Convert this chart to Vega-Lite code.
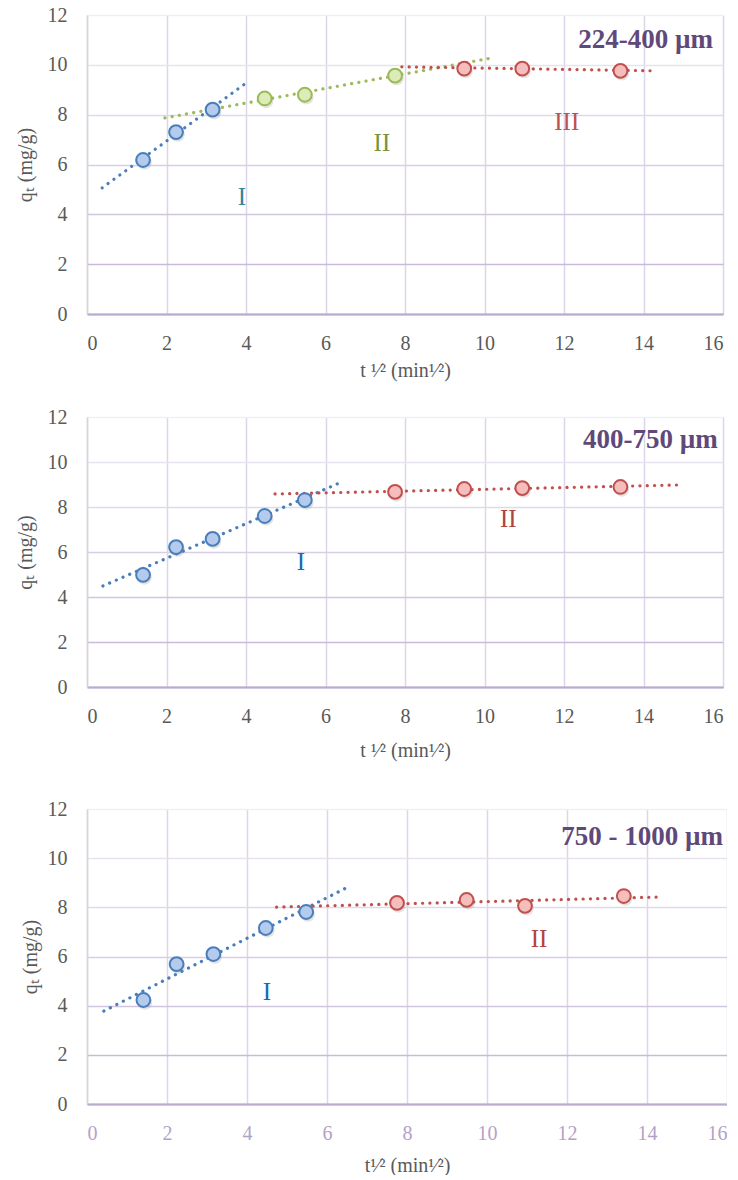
{
  "$schema": "https://vega.github.io/schema/vega-lite/v6.json",
  "padding": {"left": 15, "top": 5, "right": 0, "bottom": 0},
  "columns": 1,
  "align": "none",
  "spacing": 27,
  "resolve": {"scale": {"stroke": "independent", "fill": "independent", "color": "independent"}},
  "config": {
    "view": {"stroke": null},
    "font": "Liberation Serif",
    "axis": {
      "labelFont": "Liberation Serif",
      "titleFont": "Liberation Serif",
      "labelFontSize": 20,
      "titleFontSize": 20,
      "labelColor": "#595959",
      "titleColor": "#595959",
      "titleFontWeight": "normal",
      "ticks": false,
      "tickSize": 0,
      "gridWidth": 1.5
    }
  },
  "datasets": {
    "p1": [
      {"x": 1.41, "q": 6.18, "s": "I"}, {"x": 2.24, "q": 7.3, "s": "I"}, {"x": 3.16, "q": 8.2, "s": "I"},
      {"x": 4.47, "q": 8.65, "s": "II"}, {"x": 5.48, "q": 8.8, "s": "II"}, {"x": 7.75, "q": 9.57, "s": "II"},
      {"x": 9.49, "q": 9.85, "s": "III"}, {"x": 10.95, "q": 9.85, "s": "III"}, {"x": 13.42, "q": 9.76, "s": "III"}
    ],
    "l1": [
      {"x": 0.38, "q": 5.06, "s": "I"}, {"x": 4.08, "q": 9.36, "s": "I"},
      {"x": 1.96, "q": 7.87, "s": "II"}, {"x": 10.2, "q": 10.28, "s": "II"},
      {"x": 7.92, "q": 9.92, "s": "III"}, {"x": 14.3, "q": 9.76, "s": "III"}
    ],
    "t1": [
      {"x": 3.9, "q": 4.7, "label": "I", "s": "I"},
      {"x": 7.42, "q": 6.87, "label": "II", "s": "II"},
      {"x": 12.07, "q": 7.7, "label": "III", "s": "III"}
    ],
    "h1": [{"x": 15.75, "q": 11.0, "label": "224-400 µm"}],
    "p2": [
      {"x": 1.41, "q": 4.98, "s": "I"}, {"x": 2.24, "q": 6.22, "s": "I"}, {"x": 3.16, "q": 6.58, "s": "I"},
      {"x": 4.47, "q": 7.6, "s": "I"}, {"x": 5.48, "q": 8.31, "s": "I"},
      {"x": 7.75, "q": 8.67, "s": "II"}, {"x": 9.49, "q": 8.8, "s": "II"}, {"x": 10.95, "q": 8.84, "s": "II"}, {"x": 13.42, "q": 8.89, "s": "II"}
    ],
    "l2": [
      {"x": 0.4, "q": 4.49, "s": "I"}, {"x": 6.34, "q": 9.06, "s": "I"},
      {"x": 4.73, "q": 8.58, "s": "II"}, {"x": 14.9, "q": 8.98, "s": "II"}
    ],
    "t2": [
      {"x": 5.38, "q": 5.56, "label": "I", "s": "I"},
      {"x": 10.6, "q": 7.47, "label": "II", "s": "II"}
    ],
    "h2": [{"x": 15.87, "q": 11.0, "label": "400-750 µm"}],
    "p3": [
      {"x": 1.41, "q": 4.23, "s": "I"}, {"x": 2.24, "q": 5.69, "s": "I"}, {"x": 3.16, "q": 6.1, "s": "I"},
      {"x": 4.47, "q": 7.16, "s": "I"}, {"x": 5.48, "q": 7.81, "s": "I"},
      {"x": 7.75, "q": 8.18, "s": "II"}, {"x": 9.49, "q": 8.3, "s": "II"}, {"x": 10.95, "q": 8.06, "s": "II"}, {"x": 13.42, "q": 8.46, "s": "II"}
    ],
    "l3": [
      {"x": 0.42, "q": 3.78, "s": "I"}, {"x": 6.48, "q": 8.79, "s": "I"},
      {"x": 4.74, "q": 8.01, "s": "II"}, {"x": 14.3, "q": 8.42, "s": "II"}
    ],
    "t3": [
      {"x": 4.5, "q": 4.56, "label": "I", "s": "I"},
      {"x": 11.3, "q": 6.7, "label": "II", "s": "II"}
    ],
    "h3": [{"x": 15.9, "q": 10.86, "label": "750 - 1000 µm"}]
  },
  "concat": [
    {
      "width": 636,
      "height": 299,
      "encoding": {
        "x": {"field": "x", "type": "quantitative", "scale": {"domain": [0, 16], "nice": false},
          "axis": {"title": "t ¹⁄² (min¹⁄²)", "values": [0, 2, 4, 6, 8, 10, 12, 14, 16], "gridColor": "#DDD5E8", "domainColor": "#B9AACF", "domainWidth": 2, "labelPadding": 19, "titlePadding": 7}},
        "y": {"field": "q", "type": "quantitative", "scale": {"domain": [0, 12], "nice": false},
          "axis": {"title": "qₜ (mg/g)", "values": [0, 2, 4, 6, 8, 10, 12], "domainColor": "#D6D6D6", "domainWidth": 1.5, "labelPadding": 20, "titlePadding": 12,
            "gridColor": {"condition": [{"test": "datum.value >= 12", "value": "#F1EEF6"}, {"test": "datum.value >= 10", "value": "#E8E2F0"}, {"test": "datum.value >= 8", "value": "#E0D9EA"}, {"test": "datum.value >= 6", "value": "#D8CFE5"}, {"test": "datum.value >= 4", "value": "#D0C6E0"}, {"test": "datum.value >= 2", "value": "#C7BBD9"}], "value": "#B9AACF"}}}
      },
      "layer": [
        {"data": {"name": "l1"}, "mark": {"type": "line", "strokeDash": [0.1, 7.2], "strokeCap": "round", "strokeWidth": 3.2},
          "encoding": {"stroke": {"field": "s", "type": "nominal", "scale": {"domain": ["I", "II", "III"], "range": ["#4A7EBB", "#9BBB59", "#C0504D"]}, "legend": null}}},
        {"data": {"name": "p1"}, "mark": {"type": "circle", "size": 210, "color": "#808080", "opacity": 0.22, "xOffset": 1.5, "yOffset": 2.5}},
        {"data": {"name": "p1"}, "mark": {"type": "circle", "size": 190, "strokeWidth": 2, "opacity": 1},
          "encoding": {
            "fill": {"field": "s", "type": "nominal", "scale": {"domain": ["I", "II", "III"], "range": ["#B4CBEE", "#DCEBB8", "#F6BDBD"]}, "legend": null},
            "stroke": {"field": "s", "type": "nominal", "scale": {"domain": ["I", "II", "III"], "range": ["#4A7EBB", "#9BBB59", "#C0504D"]}, "legend": null}}},
        {"data": {"name": "t1"}, "mark": {"type": "text", "fontSize": 25, "align": "center", "baseline": "middle"},
          "encoding": {"text": {"field": "label"},
            "color": {"field": "s", "type": "nominal", "scale": {"domain": ["I", "II", "III"], "range": ["#31859C", "#77933C", "#C0504D"]}, "legend": null}}},
        {"data": {"name": "h1"}, "mark": {"type": "text", "fontSize": 27, "fontWeight": "bold", "color": "#5F497A", "align": "right", "baseline": "middle"},
          "encoding": {"text": {"field": "label"}}}
      ]
    },
    {
      "width": 636,
      "height": 270,
      "encoding": {
        "x": {"field": "x", "type": "quantitative", "scale": {"domain": [0, 16], "nice": false},
          "axis": {"title": "t ¹⁄² (min¹⁄²)", "values": [0, 2, 4, 6, 8, 10, 12, 14, 16], "gridColor": "#DDD5E8", "domainColor": "#B9AACF", "domainWidth": 2, "labelPadding": 19, "titlePadding": 14}},
        "y": {"field": "q", "type": "quantitative", "scale": {"domain": [0, 12], "nice": false},
          "axis": {"title": "qₜ (mg/g)", "values": [0, 2, 4, 6, 8, 10, 12], "domainColor": "#D6D6D6", "domainWidth": 1.5, "labelPadding": 20, "titlePadding": 12,
            "gridColor": {"condition": [{"test": "datum.value >= 12", "value": "#F1EEF6"}, {"test": "datum.value >= 10", "value": "#E8E2F0"}, {"test": "datum.value >= 8", "value": "#E0D9EA"}, {"test": "datum.value >= 6", "value": "#D8CFE5"}, {"test": "datum.value >= 4", "value": "#D0C6E0"}, {"test": "datum.value >= 2", "value": "#C7BBD9"}], "value": "#B9AACF"}}}
      },
      "layer": [
        {"data": {"name": "l2"}, "mark": {"type": "line", "strokeDash": [0.1, 7.2], "strokeCap": "round", "strokeWidth": 3.2},
          "encoding": {"stroke": {"field": "s", "type": "nominal", "scale": {"domain": ["I", "II"], "range": ["#4A7EBB", "#C0504D"]}, "legend": null}}},
        {"data": {"name": "p2"}, "mark": {"type": "circle", "size": 210, "color": "#808080", "opacity": 0.22, "xOffset": 1.5, "yOffset": 2.5}},
        {"data": {"name": "p2"}, "mark": {"type": "circle", "size": 190, "strokeWidth": 2, "opacity": 1},
          "encoding": {
            "fill": {"field": "s", "type": "nominal", "scale": {"domain": ["I", "II"], "range": ["#B4CBEE", "#F6BDBD"]}, "legend": null},
            "stroke": {"field": "s", "type": "nominal", "scale": {"domain": ["I", "II"], "range": ["#4A7EBB", "#C0504D"]}, "legend": null}}},
        {"data": {"name": "t2"}, "mark": {"type": "text", "fontSize": 25, "align": "center", "baseline": "middle"},
          "encoding": {"text": {"field": "label"},
            "color": {"field": "s", "type": "nominal", "scale": {"domain": ["I", "II"], "range": ["#0F6CB6", "#B0443F"]}, "legend": null}}},
        {"data": {"name": "h2"}, "mark": {"type": "text", "fontSize": 27, "fontWeight": "bold", "color": "#5F497A", "align": "right", "baseline": "middle"},
          "encoding": {"text": {"field": "label"}}}
      ]
    },
    {
      "width": 640,
      "height": 295,
      "title": {"text": " ", "fontSize": 2, "offset": 10},
      "encoding": {
        "x": {"field": "x", "type": "quantitative", "scale": {"domain": [0, 16], "nice": false},
          "axis": {"title": "t¹⁄² (min¹⁄²)", "values": [0, 2, 4, 6, 8, 10, 12, 14, 16], "gridColor": "#DDD5E8", "domainColor": "#B9AACF", "domainWidth": 2, "labelPadding": 19, "titlePadding": 12, "labelColor": "#B3A2C7"}},
        "y": {"field": "q", "type": "quantitative", "scale": {"domain": [0, 12], "nice": false},
          "axis": {"title": "qₜ (mg/g)", "values": [0, 2, 4, 6, 8, 10, 12], "domainColor": "#D6D6D6", "domainWidth": 1.5, "labelPadding": 20, "titlePadding": 7,
            "gridColor": {"condition": [{"test": "datum.value >= 12", "value": "#F1EEF6"}, {"test": "datum.value >= 10", "value": "#E8E2F0"}, {"test": "datum.value >= 8", "value": "#E0D9EA"}, {"test": "datum.value >= 6", "value": "#D8CFE5"}, {"test": "datum.value >= 4", "value": "#D0C6E0"}, {"test": "datum.value >= 2", "value": "#C7BBD9"}], "value": "#B9AACF"}}}
      },
      "layer": [
        {"data": {"name": "l3"}, "mark": {"type": "line", "strokeDash": [0.1, 7.2], "strokeCap": "round", "strokeWidth": 3.2},
          "encoding": {"stroke": {"field": "s", "type": "nominal", "scale": {"domain": ["I", "II"], "range": ["#4A7EBB", "#C0504D"]}, "legend": null}}},
        {"data": {"name": "p3"}, "mark": {"type": "circle", "size": 210, "color": "#808080", "opacity": 0.22, "xOffset": 1.5, "yOffset": 2.5}},
        {"data": {"name": "p3"}, "mark": {"type": "circle", "size": 190, "strokeWidth": 2, "opacity": 1},
          "encoding": {
            "fill": {"field": "s", "type": "nominal", "scale": {"domain": ["I", "II"], "range": ["#B4CBEE", "#F6BDBD"]}, "legend": null},
            "stroke": {"field": "s", "type": "nominal", "scale": {"domain": ["I", "II"], "range": ["#4A7EBB", "#C0504D"]}, "legend": null}}},
        {"data": {"name": "t3"}, "mark": {"type": "text", "fontSize": 25, "align": "center", "baseline": "middle"},
          "encoding": {"text": {"field": "label"},
            "color": {"field": "s", "type": "nominal", "scale": {"domain": ["I", "II"], "range": ["#0F6CB6", "#B0443F"]}, "legend": null}}},
        {"data": {"name": "h3"}, "mark": {"type": "text", "fontSize": 27, "fontWeight": "bold", "color": "#5F497A", "align": "right", "baseline": "middle"},
          "encoding": {"text": {"field": "label"}}}
      ]
    }
  ]
}
